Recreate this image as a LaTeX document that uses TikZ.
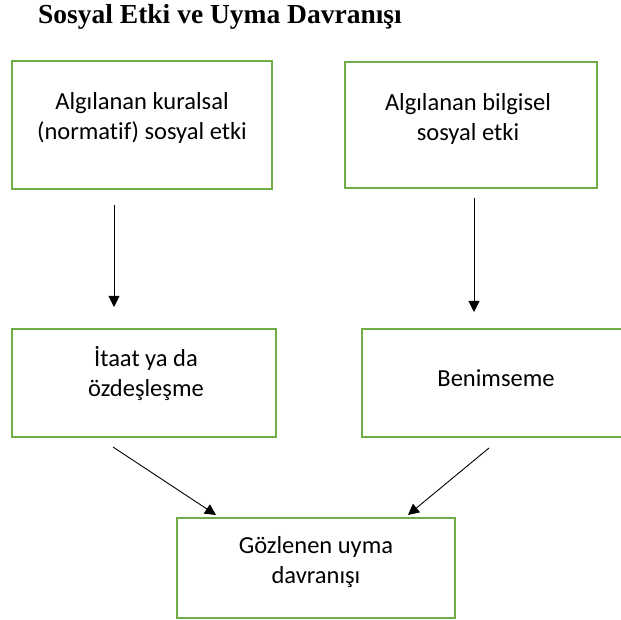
\documentclass[tikz,border=0pt]{standalone}
\usepackage{fontspec}
\setmainfont{Carlito}[Ligatures=NoCommon]
\newfontfamily\titlefont{Liberation Serif}
\usetikzlibrary{arrows.meta}
\definecolor{boxgreen}{HTML}{70AD47}
\tikzset{
  box/.style={draw=boxgreen, line width=2pt, rectangle, inner sep=0pt},
  txt/.style={align=center, font=\fontsize{24.5}{30}\selectfont, inner sep=0pt},
  flow/.style={draw=black, line width=0.9pt, -{Triangle[length=11pt,width=11pt]}},
}
\begin{document}
\begin{tikzpicture}[x=1pt, y=-1pt]
  \useasboundingbox (0,0) rectangle (621,620);
  % title
  \node[anchor=base west, inner sep=0pt, font=\titlefont\bfseries\fontsize{27.5}{30}\selectfont] (title) at (38,24) {Sosyal Etki ve Uyma Davranışı};
  % boxes
  \node[box, minimum width=260pt, minimum height=128pt] (b1) at (142,125) {};
  \node[box, minimum width=252pt, minimum height=126pt] (b2) at (471,125) {};
  \node[box, minimum width=264pt, minimum height=108pt] (b3) at (144,383) {};
  \node[box, minimum width=264pt, minimum height=108pt] (b4) at (494,383) {};
  \node[box, minimum width=278pt, minimum height=100pt] (b5) at (316,568) {};
  % labels
  \node[txt] (t1) at (142,118) {Algılanan kuralsal\\(normatif) sosyal etki};
  \node[txt] (t2) at (468,119) {Algılanan bilgisel\\sosyal etki};
  \node[txt] (t3) at (146,374) {İtaat ya da\\özdeşleşme};
  \node[txt] (t4) at (496,378) {Benimseme};
  \node[txt] (t5) at (316,562) {Gözlenen uyma\\davranışı};
  % connector ends
  \coordinate (a1s) at (114,205);
  \coordinate (a1e) at (114,307);
  \coordinate (a2s) at (474,198);
  \coordinate (a2e) at (474,312);
  \coordinate (a3s) at (113,447);
  \coordinate (a3e) at (216,515);
  \coordinate (a4s) at (489,448);
  \coordinate (a4e) at (408,515);
  \draw[flow] (a1s) -- (a1e);
  \draw[flow] (a2s) -- (a2e);
  \draw[flow] (a3s) -- (a3e);
  \draw[flow] (a4s) -- (a4e);
\end{tikzpicture}
\end{document}
